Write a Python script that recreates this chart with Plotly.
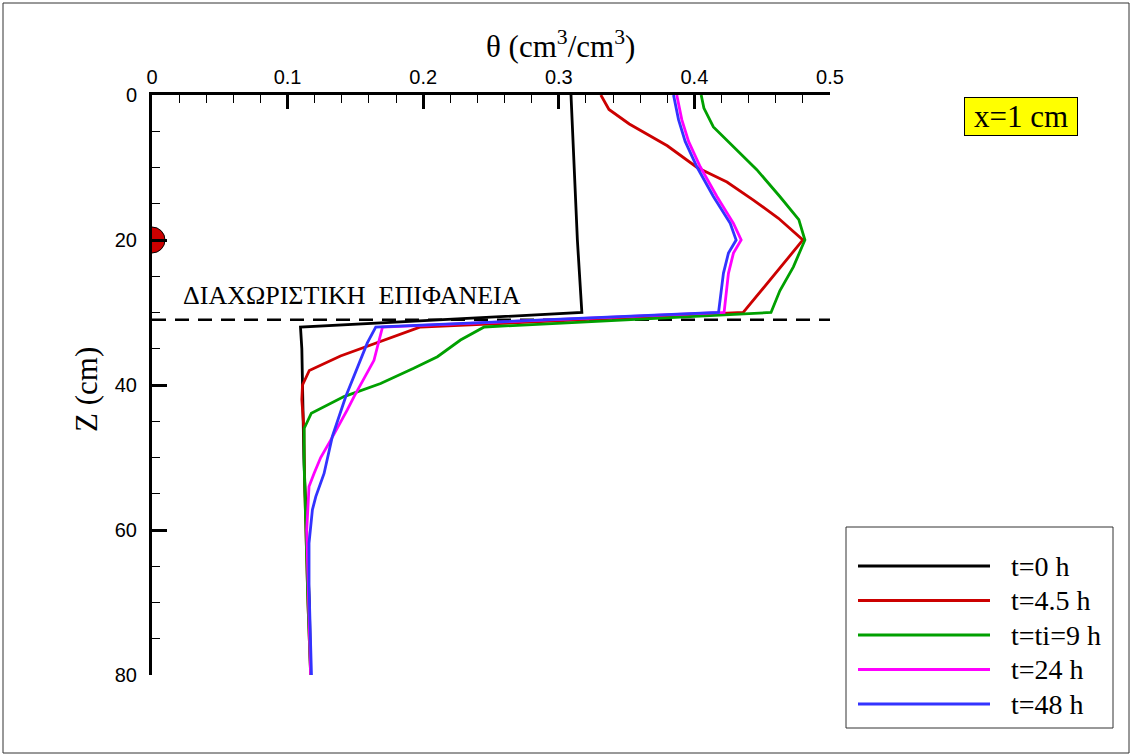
import plotly.graph_objects as go

# depth profiles of water content, x = 1 cm
z_t0 = [0, 10, 20, 30, 32, 35, 40, 50, 60, 70, 80]
th_t0 = [0.309, 0.3115, 0.3137, 0.317, 0.1095, 0.1105, 0.111, 0.112, 0.114, 0.116, 0.117]

z_t45 = [0, 2, 4, 7, 10, 12, 14.5, 17, 20, 30, 32, 33.3, 34.7, 36, 38, 40, 42, 46, 53, 60, 70, 80]
th_t45 = [0.331, 0.337, 0.352, 0.380, 0.402, 0.424, 0.4435, 0.462, 0.480, 0.436, 0.198, 0.1785,
          0.159, 0.139, 0.116, 0.111, 0.1105, 0.112, 0.1125, 0.1135, 0.115, 0.117]

z_t9 = [0, 1.8, 4.4, 7.1, 10.3, 14, 17.2, 20, 23.7, 27, 30, 32, 33.8, 36.1, 37.7, 39.8, 41.6,
        43.9, 46, 51, 56, 60, 70, 80]
th_t9 = [0.405, 0.407, 0.414, 0.429, 0.446, 0.463, 0.477, 0.4815, 0.473, 0.463, 0.4565, 0.245,
         0.2275, 0.2105, 0.193, 0.1686, 0.1416, 0.1175, 0.1122, 0.1122, 0.1127, 0.1135, 0.115, 0.117]

z_t24 = [0, 3.4, 6.4, 9.9, 14, 17.7, 20, 21.8, 24.6, 30, 32, 33.8, 36.6, 41.6, 43.4, 47.6, 50,
         52.2, 54, 60, 70, 80]
th_t24 = [0.387, 0.3907, 0.3957, 0.4043, 0.4166, 0.4288, 0.4345, 0.4288, 0.4251, 0.4219, 0.170,
          0.1674, 0.1637, 0.149, 0.1441, 0.1318, 0.1244, 0.1195, 0.1158, 0.1141, 0.1155, 0.117]

z_t48 = [0, 3.4, 6.4, 9.9, 14, 17.7, 20, 21.8, 24.6, 30, 32, 34.2, 41.6, 47.1, 52.2, 55.4, 57.2,
         61.8, 67.8, 80]
th_t48 = [0.3846, 0.3883, 0.3932, 0.4018, 0.414, 0.4264, 0.4308, 0.4251, 0.4214, 0.4178, 0.165,
          0.1588, 0.1429, 0.133, 0.1269, 0.1208, 0.1183, 0.1158, 0.1158, 0.1176]

labels = ["t=0 h", "t=4.5 h", "t=ti=9 h", "t=24 h", "t=48 h"]
colors = ["#000000", "#cc0000", "#00a000", "#ff00ff", "#3333ff"]
profiles = [(th_t0, z_t0), (th_t45, z_t45), (th_t9, z_t9), (th_t24, z_t24), (th_t48, z_t48)]

interface_z = 31
interface_x = [0, 0.5]
sensor_x = [0]
sensor_z = [20]

# layout in pixels
W, H = 1132, 756
L, R, T, B = 152, 302, 95, 81


def px(x):
    return (x - L) / (W - L - R)


def py(y):
    return (H - B - y) / (H - T - B)


SERIF = "Liberation Serif, Times New Roman, serif"
SANS = "Liberation Sans, Arial, sans-serif"

fig = go.Figure()

fig.add_trace(go.Scatter(x=interface_x, y=[interface_z] * 2, mode="lines",
                         line=dict(color="black", width=2.5, dash="14px,9px"),
                         showlegend=False, hoverinfo="skip"))

for (th, z), name, c in zip(profiles, labels, colors):
    fig.add_trace(go.Scatter(x=th, y=z, mode="lines", name=name,
                             line=dict(color=c, width=2.8), showlegend=False))

fig.add_trace(go.Scatter(x=sensor_x, y=sensor_z, mode="markers",
                         marker=dict(size=26, color="#cc0000", line=dict(color="black", width=1)),
                         showlegend=False, hoverinfo="skip"))

fig.update_xaxes(range=[0, 0.5], side="top", dtick=0.1,
                 showline=True, linewidth=3, linecolor="black",
                 ticks="inside", ticklen=14, tickwidth=3, tickcolor="black",
                 minor=dict(dtick=0.02, ticks="inside", ticklen=8, tickwidth=1, tickcolor="black"),
                 showgrid=False, zeroline=False,
                 tickfont=dict(family=SANS, size=20, color="black"))
fig.update_yaxes(range=[80, 0], dtick=20,
                 showline=True, linewidth=3, linecolor="black",
                 ticks="inside", ticklen=15, tickwidth=3, tickcolor="black",
                 minor=dict(dtick=5, ticks="inside", ticklen=8, tickwidth=1, tickcolor="black"),
                 showgrid=False, zeroline=False, ticklabelstandoff=8,
                 tickfont=dict(family=SANS, size=20, color="black"))

ann = []
ann.append(dict(x=px(560), y=py(45), xref="paper", yref="paper", showarrow=False,
                xanchor="center", yanchor="middle",
                text="θ (cm<sup>3</sup>/cm<sup>3</sup>)", font=dict(family=SERIF, size=31, color="black")))
ann.append(dict(x=px(86), y=py(390), xref="paper", yref="paper", showarrow=False, textangle=-90,
                xanchor="center", yanchor="middle",
                text="Z (cm)", font=dict(family=SERIF, size=31, color="black")))
ann.append(dict(x=0.0214, y=27.7, xref="x", yref="y", showarrow=False,
                xanchor="left", yanchor="middle",
                text="ΔΙΑΧΩΡΙΣΤΙΚΗ  ΕΠΙΦΑΝΕΙΑ", font=dict(family=SERIF, size=26, color="black")))
ann.append(dict(x=px(1021.5), y=py(116.5), xref="paper", yref="paper", showarrow=False,
                xanchor="center", yanchor="middle",
                text="x=1 cm", bgcolor="#ffff00", bordercolor="black", borderwidth=1, borderpad=1,
                width=110, font=dict(family=SERIF, size=31, color="black")))

shapes = []
# hand-drawn legend box
shapes.append(dict(type="rect", xref="paper", yref="paper", x0=px(846), x1=px(1113),
                   y0=py(728), y1=py(527), line=dict(color="#333333", width=1)))
row_y = [566, 600.5, 635, 669.5, 704]
for ry, name, c in zip(row_y, labels, colors):
    shapes.append(dict(type="line", xref="paper", yref="paper", x0=px(858), x1=px(990),
                       y0=py(ry), y1=py(ry), line=dict(color=c, width=2.8)))
    ann.append(dict(x=px(1009), y=py(ry), xref="paper", yref="paper", showarrow=False,
                    xanchor="left", yanchor="middle",
                    text=name, font=dict(family=SERIF, size=28, color="black")))
# figure frame
shapes.append(dict(type="rect", xref="paper", yref="paper", x0=px(3), x1=px(1129),
                   y0=py(753), y1=py(3), line=dict(color="#333333", width=1)))

fig.update_layout(width=W, height=H, margin=dict(l=L, r=R, t=T, b=B),
                  plot_bgcolor="white", paper_bgcolor="white",
                  annotations=ann, shapes=shapes, showlegend=False)

fig.write_html("out.html", config={"displayModeBar": False},
               post_script="document.body.style.margin='0';")
